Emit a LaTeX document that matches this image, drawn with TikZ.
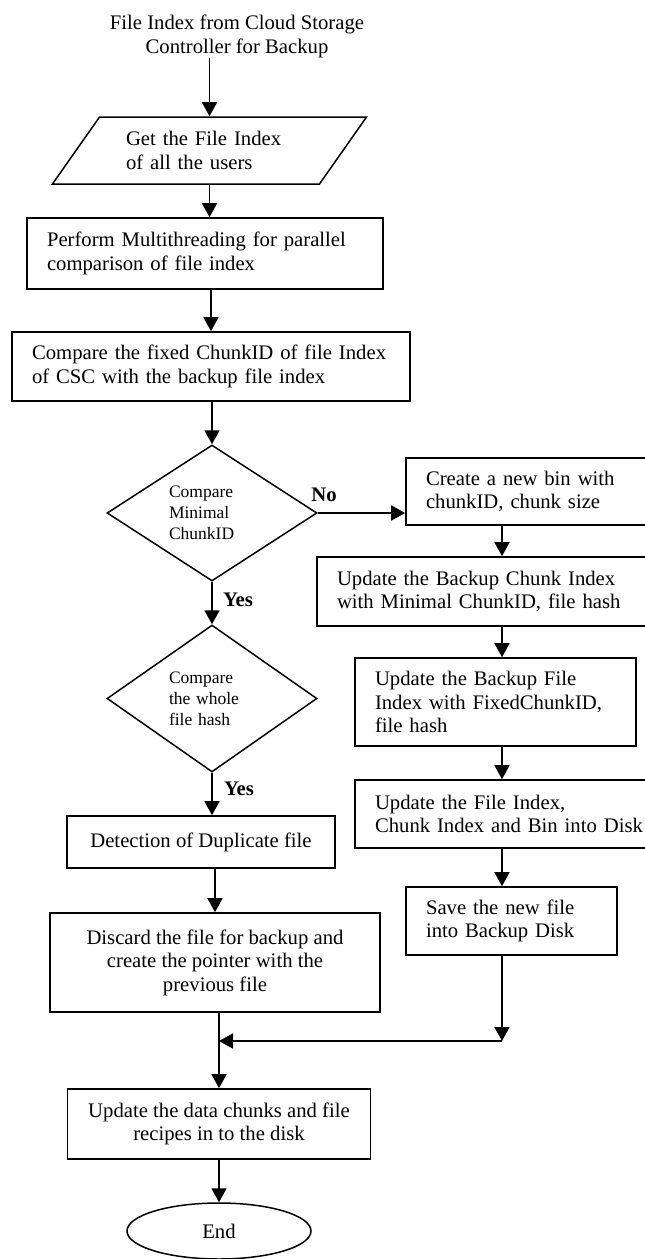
\documentclass[tikz,border=0pt]{standalone}
\usepackage{fontspec}
\setmainfont{Liberation Serif}
\usetikzlibrary{shapes.geometric,arrows.meta}

\begin{document}
\begin{tikzpicture}[x=1pt,y=-1pt,
  every node/.style={font=\fontsize{20.7}{23.5}\selectfont},
  box/.style={draw, line width=1.6pt, rectangle, inner xsep=20pt, inner ysep=0pt, align=left},
  cbox/.style={draw, line width=1.6pt, rectangle, inner sep=0pt, align=center},
  dec/.style={draw, line width=1.5pt, diamond, aspect=1.54, inner sep=0pt,
    minimum width=210pt, text width=86pt, align=left,
    font=\fontsize{17.5}{21}\selectfont},
  arr/.style={line width=1.6pt, -{Triangle[length=14pt,width=15pt]}},
  lbl/.style={font=\bfseries\fontsize{20.7}{23.5}\selectfont, inner sep=0pt}
]
\useasboundingbox (0,0) rectangle (645,1259);
\fill[white] (0,0) rectangle (645,1259);
\clip (0,0) rectangle (645,1259);

% main column
\node[align=center, inner sep=0pt] (start) at (237,36.5)
  {File Index from Cloud Storage\\Controller for Backup};
\node[draw, line width=1.5pt, trapezium, trapezium left angle=46.8,
  trapezium right angle=133.2, trapezium stretches=true,
  minimum width=315pt, minimum height=67pt, inner sep=0pt,
  text width=167pt, align=left] (getidx) at (209.5,150.5)
  {Get the File Index\\of all the users};
\node[box, text width=316pt, minimum height=71pt] (perform) at (205,253.5)
  {Perform Multithreading for parallel\\comparison of file index};
\node[box, text width=358pt, minimum height=69pt] (compare) at (211,366.5)
  {Compare the fixed ChunkID of file Index\\of CSC with the backup file index};
\node[dec, minimum height=136pt] (d1) at (212,513) {Compare\\Minimal\\ChunkID};
\node[dec, minimum height=147pt] (d2) at (212,698.5) {Compare\\the whole\\file hash};
\node[cbox, minimum width=268pt, minimum height=52pt] (dup) at (201,842)
  {Detection of Duplicate file};
\node[cbox, minimum width=330pt, minimum height=99pt] (discard) at (215,962.5)
  {Discard the file for backup and\\create the pointer with the\\previous file};
\node[cbox, minimum width=303pt, minimum height=70pt] (update) at (219,1124)
  {Update the data chunks and file\\recipes in to the disk};
\node[draw, line width=1.5pt, ellipse, inner sep=0pt, minimum width=184pt,
  minimum height=56pt] (end) at (219,1231) {End};

% right column
\node[box, text width=254pt, minimum height=67pt] (newbin) at (553,491.5)
  {Create a new bin with\\chunkID, chunk size};
\node[box, text width=343pt, minimum height=69pt] (chunk) at (508.5,591.5)
  {Update the Backup Chunk Index\\with Minimal ChunkID, file hash};
\node[box, text width=241pt, minimum height=88pt] (fidx) at (495.5,702)
  {Update the Backup File\\Index with FixedChunkID,\\file hash};
\node[box, text width=305pt, minimum height=68pt] (upd) at (527.5,814)
  {Update the File Index,\\Chunk Index and Bin into Disk};
\node[box, text width=171pt, minimum height=68pt] (save) at (511.5,921)
  {Save the new file\\into Backup Disk};

% branch labels
\node[lbl] (no) at (324,495) {No};
\node[lbl] (yes1) at (238,600) {Yes};
\node[lbl] (yes2) at (239,789) {Yes};

% connectors
\coordinate (rc) at (502,0);
\coordinate (corner) at (502,1041);
\coordinate (join) at (update.north |- corner);

\draw[arr] (start.south -| getidx.north) -- (getidx.north);
\draw[arr] (getidx.south) -- (getidx.south |- perform.north);
\draw[arr] (perform.south -| compare.north) -- (compare.north);
\draw[arr] (compare.south -| d1.north) -- (d1.north);
\draw[arr] (d1.east) -- (d1.east -| newbin.west);
\draw[arr] (d1.south) -- (d2.north);
\draw[arr] (d2.south) -- (d2.south |- dup.north);
\draw[arr] (dup.south -| discard.north) -- (discard.north);
\draw[arr] (discard.south -| update.north) -- (update.north);
\draw[arr] (update.south -| end.north) -- (end.north);

\draw[arr] (newbin.south -| rc) -- (chunk.north -| rc);
\draw[arr] (chunk.south -| rc) -- (fidx.north -| rc);
\draw[arr] (fidx.south -| rc) -- (upd.north -| rc);
\draw[arr] (upd.south -| rc) -- (save.north -| rc);
\draw[arr] (save.south -| rc) -- (corner);
\draw[arr] (corner) -- (join);
\end{tikzpicture}
\end{document}
